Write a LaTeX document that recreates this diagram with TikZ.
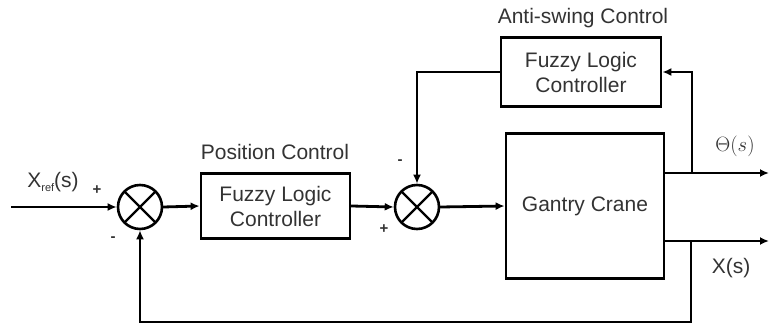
\documentclass[tikz,border=0pt]{standalone}
\usepackage{fontspec}
\setmainfont{Liberation Sans}
\usetikzlibrary{arrows.meta}
\tikzset{
  wire/.style={line width=2.8pt, line cap=rect},
  arr/.style={wire, -{Latex[length=9pt,width=8pt]}},
  blockbox/.style={draw, line width=2.8pt, inner sep=0pt, align=center,
     font=\fontsize{21}{25}\selectfont, text=black!80},
  sumnode/.style={draw, circle, line width=2.6pt, minimum size=44pt, inner sep=0pt,
     path picture={\draw[line width=2.2pt]
        (path picture bounding box.south west) -- (path picture bounding box.north east)
        (path picture bounding box.north west) -- (path picture bounding box.south east);}},
  lbl/.style={font=\fontsize{21}{25}\selectfont, text=black!80, inner sep=0pt},
  sign/.style={font=\fontsize{15}{15}\selectfont\bfseries, text=black!80, inner sep=0pt},
}
\begin{document}
\begin{tikzpicture}[x=1pt,y=-1pt]
\useasboundingbox (0,0) rectangle (769,326);
% nodes
\node[sumnode] (s1) at (140,207) {};
\node[sumnode] (s2) at (417,207) {};
\node[blockbox, minimum width=149pt, minimum height=65pt] (flc1) at (275.5,206) {Fuzzy Logic\\Controller};
\node[blockbox, minimum width=160pt, minimum height=69pt] (flc2) at (581,72) {Fuzzy Logic\\Controller};
\node[blockbox, minimum width=158pt, minimum height=145pt] (gc) at (585,206) {Gantry Crane};
% labels
\node[lbl] (lpos) at (275,152) {Position Control};
\node[lbl] (lanti) at (583,18) {Anti-swing Control};
\node[lbl] (lxref) at (53,182) {X\raisebox{-4pt}{\fontsize{11}{11}\selectfont ref}(s)};
\node[inner sep=0pt, text=black!80] (lth) at (735,146) {\fontsize{22}{26}\selectfont$\Theta(s)$};
\node[lbl] (lx) at (731,268) {X(s)};
\node[sign] (p1) at (97,190) {+};
\node[sign] (m1) at (113,239) {-};
\node[sign] (m2) at (400,162) {-};
\node[sign] (p2) at (384,229) {+};
% coordinates
\coordinate (in) at (12,207);
\coordinate (thout) at (769,173);
\coordinate (xout) at (769,241);
\coordinate (tap1) at (692,173);
\coordinate (tap2) at (691,241);
\coordinate (fb) at (691,322);
% connectors
\draw[arr] (in) -- (s1.west);
\draw[arr] (s1.east) -- (flc1.west);
\draw[arr] (flc1.east) -- (s2.west);
\draw[arr] (s2.east) -- (gc.west);
\draw[arr] (gc.east |- thout) -- (thout);
\draw[arr] (gc.east |- xout) -- (xout);
\draw[arr] (tap1) |- (flc2.east);
\draw[arr] (flc2.west) -| (s2.north);
\draw[arr] (tap2) -- (fb) -| (s1.south);
\end{tikzpicture}
\end{document}
